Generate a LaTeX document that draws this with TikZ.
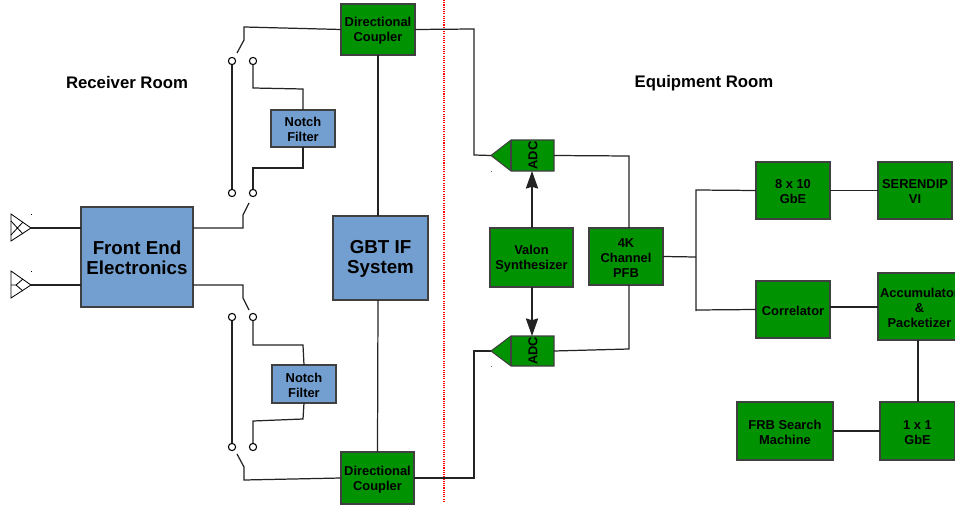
\documentclass[tikz,border=0pt]{standalone}
\usepackage{fontspec}
\usepackage{xcolor}
\setmainfont{Liberation Sans}
\usetikzlibrary{arrows.meta,calc,positioning}
\definecolor{boxgreen}{RGB}{0,146,0}
\definecolor{boxblue}{RGB}{114,159,207}
\definecolor{wirecolor}{RGB}{35,35,35}
\tikzset{
  wire/.style={draw=wirecolor,line width=1.05pt},
  clockwire/.style={wire,-{Stealth[inset=1.5pt,length=15pt,width=10.5pt]}},
  contact/.style={circle,draw=black,fill=white,line width=0.9pt,inner sep=0pt,minimum size=6.2pt},
  antline/.style={draw=black,line width=0.7pt},
  roomlabel/.style={font=\bfseries\fontsize{14.3}{16}\selectfont,inner sep=0pt},
  bigtext/.style={font=\bfseries\fontsize{16}{17}\selectfont},
  smalltext/.style={font=\bfseries\fontsize{11}{12.8}\selectfont},
}
% #1 name, #2 left, #3 top, #4 right, #5 bottom, #6 fill, #7 text style, #8 text
\newcommand{\blockbox}[8]{%
  \path[draw=black!75,line width=0.9pt,fill=#6] (#2,#3) rectangle (#4,#5);%
  \node[inner sep=0pt,align=center,yshift=-1pt,#7] (#1) at ({(#2+#4)/2},{(#3+#5)/2}) {#8};%
  \coordinate (#1w) at (#2,{(#3+#5)/2});%
  \coordinate (#1e) at (#4,{(#3+#5)/2});%
  \coordinate (#1n) at ({(#2+#4)/2},#3);%
  \coordinate (#1s) at ({(#2+#4)/2},#5);%
}
% #1 name, #2 top, #3 bottom
\newcommand{\adcblock}[3]{%
  \path[draw=black!75,line width=0.9pt,fill=boxgreen] (491,{(#2+#3)/2}) -- (511,#2) -- (554,#2) -- (554,#3) -- (511,#3) -- cycle;%
  \draw[black!75,line width=0.9pt] (511,#2) -- (511,#3);%
  \node[inner sep=0pt,rotate=90,font=\bfseries\fontsize{11}{13}\selectfont] (#1) at (533,{(#2+#3)/2}) {ADC};%
  \coordinate (#1w) at (491,{(#2+#3)/2});%
  \coordinate (#1e) at (554,{(#2+#3)/2});%
  \fill[black!60] (490.5,#3) rectangle +(1,1);%
}
% #1 name, #2 middle y
\newcommand{\antennabase}[2]{%
  \path[antline,fill=white] (11,#2-14) -- (31,#2) -- (11,#2+13) -- cycle;%
  \coordinate (#1) at (31,#2);%
  \fill[black] (31,#2-14) rectangle +(1,1);%
}
\begin{document}
\begin{tikzpicture}[x=0.03cm,y=-0.03cm]
  \path[use as bounding box,clip] (0,0) rectangle (955,508);
  \draw[red,densely dotted,line width=0.9pt] (444,0) -- (444,503);
  \node[roomlabel] (rxroom) at (127,83) {Receiver Room};
  \node[roomlabel] (eqroom) at (704,83) {Equipment Room};
  % blue blocks
  \blockbox{frontend}{81}{207}{193}{307}{boxblue}{bigtext}{Front End\\Electronics}
  \blockbox{gbtif}{333}{216}{428}{300}{boxblue}{bigtext}{GBT IF\\System}
  \blockbox{notchup}{271}{110}{335}{147}{boxblue}{smalltext}{Notch\\Filter}
  \blockbox{notchlo}{272}{365}{336}{403}{boxblue}{smalltext}{Notch\\Filter}
  % green blocks
  \blockbox{couplerup}{341}{4}{415}{55}{boxgreen}{smalltext}{Directional\\Coupler}
  \blockbox{couplerlo}{341}{452}{414}{504}{boxgreen}{smalltext}{Directional\\Coupler}
  \blockbox{valon}{490}{228}{573}{287}{boxgreen}{smalltext}{Valon\\Synthesizer}
  \blockbox{pfb}{589}{228}{663}{285}{boxgreen}{smalltext}{4K\\Channel\\PFB}
  \blockbox{gbe}{756}{162}{830}{219}{boxgreen}{smalltext}{8 x 10\\GbE}
  \blockbox{serendip}{878}{162}{952}{219}{boxgreen}{smalltext}{SERENDIP\\VI}
  \blockbox{correlator}{756}{281}{830}{338}{boxgreen}{smalltext}{Correlator}
  \blockbox{accum}{878}{273}{961}{340}{boxgreen}{smalltext}{Accumulator\\\&\\Packetizer}
  \blockbox{frb}{737}{402}{833}{460}{boxgreen}{smalltext}{FRB Search\\Machine}
  \blockbox{onegbe}{880}{402}{955}{460}{boxgreen}{smalltext}{1 x 1\\GbE}
  \adcblock{adcup}{140}{171}
  \adcblock{adclo}{336}{366}
  \antennabase{antup}{228}
  \antennabase{antlo}{285}
  \draw[antline] (11,221) -- (23,234) (11,235) -- (23,222);
  \draw[antline] (11,285) -- (16,285) (23,279) -- (16,285) -- (23,291);
  % switch contacts
  \node[contact] (swa) at (232,61) {};
  \node[contact] (swb) at (253,61) {};
  \node[contact] (swc) at (232,193) {};
  \node[contact] (swd) at (253,193) {};
  \node[contact] (swe) at (232,317) {};
  \node[contact] (swf) at (253,317) {};
  \node[contact] (swg) at (232,447) {};
  \node[contact] (swh) at (253,447) {};
  % wires
  \draw[wire] (antup) -- (frontendw|-antup);
  \draw[wire] (antlo) -- (frontendw|-antlo);
  \draw[wire] (swa) -- (swc);
  \draw[wire] (swe) -- (swg);
  \draw[wire] (swb) -- (253,88) -- (303,89) -- (notchupn);
  \draw[wire] (notchups) -- (303,168) -- (253,168) -- (swd);
  \draw[wire] (swf) -- (253,345) -- (303,345) -- (notchlon);
  \draw[wire] (notchlos) -- (303,419) -- (253,421) -- (swh);
  \draw[wire] (237,53) -- (244,40) -- (244,27) -- (couplerupw);
  \draw[wire] (193,228) -- (243,228) -- (243,215) -- (249,203);
  \draw[wire] (193,285) -- (243,285) -- (243,298) -- (249,310);
  \draw[wire] (237,454) -- (244,467) -- (244,480) -- (couplerlow);
  \draw[wire] (couplerups) -- (378,216);
  \draw[wire] (378,300) -- (couplerlon);
  \draw[wire] (couplerupe) -- (474,29) -- (474,155) -- (adcupw);
  \draw[wire] (couplerloe) -- (474,478) -- (474,351) -- (adclow);
  \draw[wire] (adcupe) -- (629,156) -- (629,228);
  \draw[wire] (adcloe) -- (629,349) -- (629,285);
  \draw[clockwire] (532,228) -- (532,171);
  \draw[clockwire] (532,287) -- (532,336);
  \draw[wire] (pfbe) -- (696,257);
  \draw[wire] (696,311) -- (696,190) -- (gbew);
  \draw[wire] (696,310) -- (correlatorw);
  \draw[wire] (gbee) -- (serendipw);
  \draw[wire] (830,307) -- (878,307);
  \draw[wire] (918,340) -- (918,402);
  \draw[wire] (frbe) -- (onegbew);
\end{tikzpicture}
\end{document}
